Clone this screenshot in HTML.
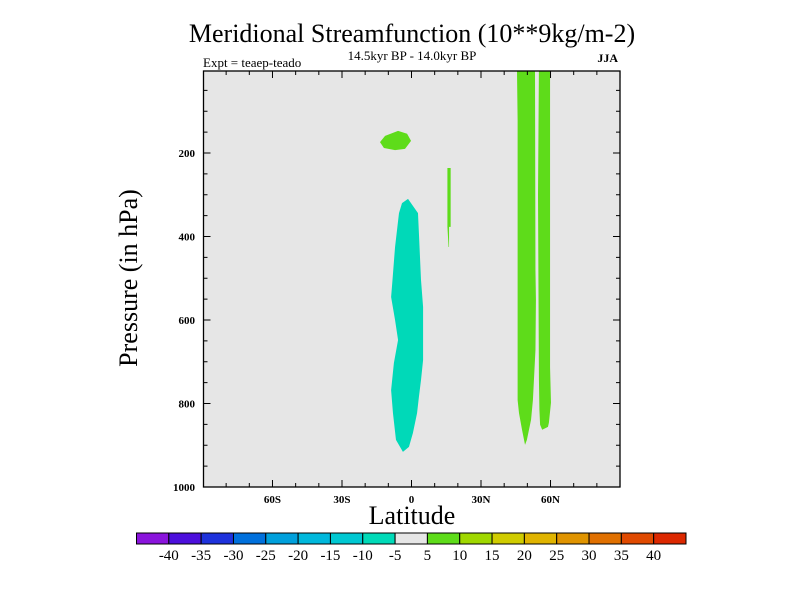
<!DOCTYPE html>
<html><head><meta charset="utf-8"><style>
body{margin:0;background:#fff}
svg text{font-family:"Liberation Serif",serif}
</style></head><body>
<svg id="c" width="800" height="600" xmlns="http://www.w3.org/2000/svg">
<rect width="800" height="600" fill="#fff"/>
<defs><clipPath id="pc"><rect x="203.5" y="71" width="416.5" height="416"/></clipPath></defs>
<rect x="203.5" y="71" width="416.5" height="416" fill="#e6e6e6"/>
<g id="fills" clip-path="url(#pc)"></g>
<rect x="203.5" y="71" width="416.5" height="416" fill="none" stroke="#000" stroke-width="1.3"/>
<g id="ticks"></g>
<text x="412" y="42" text-anchor="middle" font-size="26">Meridional Streamfunction (10**9kg/m-2)</text>
<text x="412" y="60" text-anchor="middle" font-size="13">14.5kyr BP - 14.0kyr BP</text>
<text x="203" y="67" font-size="13">Expt = teaep-teado</text>
<text x="618" y="62" text-anchor="end" font-size="12" font-weight="bold">JJA</text>
<text transform="translate(137,278) rotate(-90)" text-anchor="middle" font-size="26">Pressure (in hPa)</text>
<text x="412" y="524" text-anchor="middle" font-size="26">Latitude</text>
<g id="cbar"></g>
</svg>
<script>
const xTicks=[-60,-30,0,30,60];
const xTickLabels=["60S","30S","0","30N","60N"];
const yTicks=[200,400,600,800,1000];
const cbarLevels=[-40,-35,-30,-25,-20,-15,-10,-5,5,10,15,20,25,30,35,40];
const cbarColors=["#8a14dc","#4c0fdc","#1e32dc","#0070dc","#00a0dc","#00b8dc","#00c8d2","#00dab8","#e6e6e6","#5edc1a","#a0d800","#d0cc00","#e0b400","#e09400","#e07000","#e04a00","#dc2800"];
// contour regions: [lat, pressure]
const cyanRegion=[[-1.5,310],[2.8,344],[3.2,392],[4.1,504],[5.0,569],[5.0,696],[4.1,744],[3.2,784],[2.4,823],[0.6,871],[-1.1,904],[-3.7,916],[-6.7,887],[-8.0,823],[-8.8,768],[-7.6,703],[-5.8,648],[-7.1,600],[-8.8,545],[-8.2,504],[-7.1,425],[-5.4,344],[-4.1,320]];
const greenBlob=[[-13.6,174],[-11.4,159],[-5.8,147],[-1.9,154],[-0.2,171],[-2.8,190],[-7.1,193],[-11.9,188]];
const greenThin=[[15.5,236],[16.9,236],[16.9,377],[16.2,377],[16.2,425],[16.0,425],[15.5,377]];
const greenStrip1=[[45.5,-10],[53.3,-10],[53.5,481],[53.7,552],[53.5,672],[52.4,792],[51.6,839],[49.8,887],[49.0,899],[47.7,863],[46.4,823],[45.8,792],[45.8,121]];
const greenStrip2=[[55.0,-10],[59.8,-10],[59.8,713],[60.2,798],[59.3,846],[58.9,856],[56.4,863],[55.5,851],[55.2,815],[55.0,744],[54.6,300]];

const NS="http://www.w3.org/2000/svg";
const X=lat=>411.5+lat*2.317;
const Y=p=>69.5+p*0.4175;
function mk(tag,attrs,parent){const e=document.createElementNS(NS,tag);for(const k in attrs)e.setAttribute(k,attrs[k]);parent.appendChild(e);return e;}
const fills=document.getElementById('fills');
const regions=[[cyanRegion,"#00d9b8","negative-region"],[greenBlob,"#5edc1a","positive-blob"],[greenThin,"#5edc1a","positive-thin-strip"],[greenStrip1,"#5edc1a","positive-strip-1"],[greenStrip2,"#5edc1a","positive-strip-2"]];
regions.forEach(r=>{
  const el=mk('polygon',{points:r[0].map(d=>X(d[0])+','+Y(d[1])).join(' '),fill:r[1]},fills);
  
  
});
const tg=document.getElementById('ticks');
for(let lat=-80;lat<=90;lat+=10){
  const x=X(lat);const major=lat%30===0;const L=major?7:4;
  mk('line',{x1:x,x2:x,y1:487,y2:487-L,stroke:'#000'},tg);
  mk('line',{x1:x,x2:x,y1:71,y2:71+L,stroke:'#000'},tg);
}
xTicks.forEach((v,i)=>{
  const t=mk('text',{x:X(v),y:503,'text-anchor':'middle','font-size':11,'font-weight':'bold'},tg);
  t.textContent=xTickLabels[i];
  
  
});
for(let p=50;p<1000;p+=50){
  const y=Y(p);const major=p%200===0;const L=major?7:4;
  mk('line',{x1:203.5,x2:203.5+L,y1:y,y2:y,stroke:'#000'},tg);
  mk('line',{x1:620,x2:620-L,y1:y,y2:y,stroke:'#000'},tg);
}
yTicks.forEach(v=>{
  const t=mk('text',{x:195,y:Y(v)+4,'text-anchor':'end','font-size':11,'font-weight':'bold'},tg);
  t.textContent=v;
  
  
});
const cb=document.getElementById('cbar');
const cx0=136.5,cx1=686,cw=(cx1-cx0)/cbarColors.length;
cbarColors.forEach((c,i)=>{
  const r=mk('rect',{x:cx0+i*cw,y:533,width:cw,height:11,fill:c,stroke:'#000','stroke-width':1},cb);
  
  
});
cbarLevels.forEach((v,i)=>{
  const t=mk('text',{x:cx0+(i+1)*cw,y:560,'text-anchor':'middle','font-size':15},cb);
  t.textContent=v;
  
  
});
</script>
</body></html>
